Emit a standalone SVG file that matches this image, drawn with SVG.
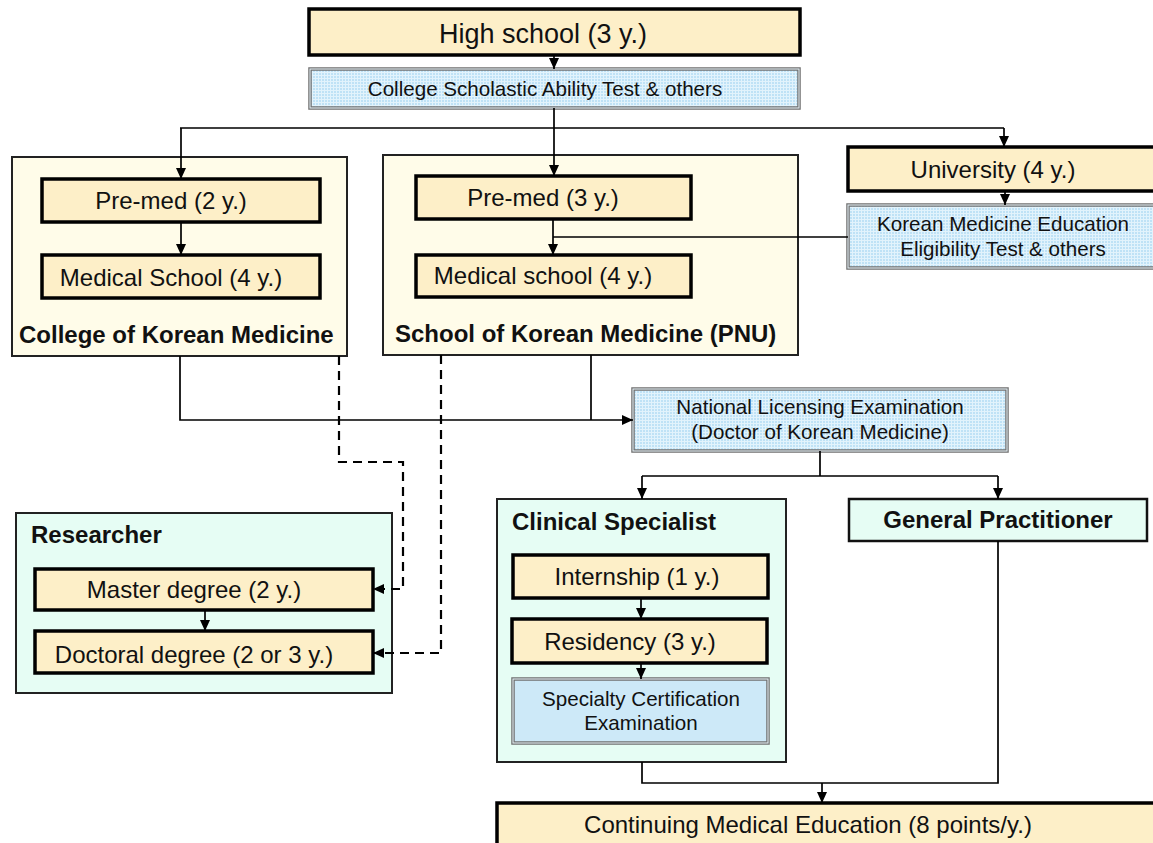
<svg xmlns="http://www.w3.org/2000/svg" width="1153" height="843" viewBox="0 0 1153 843">
<defs>
<pattern id="grid" width="3" height="3" patternUnits="userSpaceOnUse">
<rect width="3" height="3" fill="#bfe2f6"/>
<path d="M0,0.5 H3 M0.5,0 V3" stroke="#e2f3fc" stroke-width="1"/>
</pattern>
<marker id="ah" markerWidth="11" markerHeight="11" refX="11" refY="5.5" orient="auto" markerUnits="userSpaceOnUse">
<path d="M0,0.5 L11,5.5 L0,10.5 z" fill="#000"/>
</marker>
<style>
text{font-family:"Liberation Sans",Arial,sans-serif;fill:#111}
.t{font-size:24px;text-anchor:middle}
.b{font-size:24px;font-weight:bold}
.s{font-size:20.6px;text-anchor:middle}
.step{fill:#fdefc8;stroke:#000;stroke-width:3.5}
.cont{fill:#fffce9;stroke:#222;stroke-width:2}
.mint{fill:#e6fdf4;stroke:#222;stroke-width:2}
.test{fill:url(#grid);stroke:#707070;stroke-width:3.5}
.testin{fill:none;stroke:#e8f4fa;stroke-width:1}
.c{fill:none;stroke:#000;stroke-width:1.7}
.a{marker-end:url(#ah)}
.d{stroke-dasharray:9,6;stroke-width:2.2}
</style>
</defs>

<g id="high-school"><rect class="step" x="309" y="9" width="491" height="46"/><text class="t" x="543" y="43" style="font-size:27px">High school (3 y.)</text></g>
<g id="csat"><rect class="test" x="310" y="69" width="489" height="39"/><rect class="testin" x="310" y="69" width="489" height="39"/><text class="s" x="545" y="96">College Scholastic Ability Test &amp; others</text></g>

<g id="college"><rect class="cont" x="12" y="157" width="335" height="199"/><text class="b" x="19" y="343">College of Korean Medicine</text></g>
<g id="premed2"><rect class="step" x="42" y="179" width="278" height="43"/><text class="t" x="171" y="209">Pre-med (2 y.)</text></g>
<g id="med2"><rect class="step" x="42" y="255" width="278" height="43"/><text class="t" x="171" y="286">Medical School (4 y.)</text></g>

<g id="school"><rect class="cont" x="383" y="155" width="415" height="200"/><text class="b" x="395" y="342">School of Korean Medicine (PNU)</text></g>
<g id="premed3"><rect class="step" x="416" y="176" width="275" height="43"/><text class="t" x="543" y="206">Pre-med (3 y.)</text></g>
<g id="med3"><rect class="step" x="416" y="255" width="275" height="42"/><text class="t" x="543" y="284">Medical school (4 y.)</text></g>

<g id="university"><rect class="step" x="848" y="147" width="310" height="44"/><text class="t" x="993" y="178">University (4 y.)</text></g>
<g id="kmeet"><rect class="test" x="848" y="205" width="312" height="63"/><rect class="testin" x="848" y="205" width="312" height="63"/><text class="s" x="1003" y="231">Korean Medicine Education</text><text class="s" x="1003" y="256">Eligibility Test &amp; others</text></g>

<g id="nle"><rect class="test" x="633" y="389" width="374" height="62"/><rect class="testin" x="633" y="389" width="374" height="62"/><text class="s" x="820" y="414">National Licensing Examination</text><text class="s" x="820" y="439">(Doctor of Korean Medicine)</text></g>

<g id="researcher"><rect class="mint" x="16" y="513" width="376" height="180"/><text class="b" x="31" y="543">Researcher</text></g>
<g id="master"><rect class="step" x="35" y="569" width="338" height="41"/><text class="t" x="194" y="598">Master degree (2 y.)</text></g>
<g id="doctoral"><rect class="step" x="35" y="631" width="338" height="42"/><text class="t" x="194" y="663">Doctoral degree (2 or 3 y.)</text></g>

<g id="clinical"><rect class="mint" x="497" y="499" width="289" height="263"/><text class="b" x="512" y="530">Clinical Specialist</text></g>
<g id="internship"><rect class="step" x="513" y="555" width="255" height="43"/><text class="t" x="637" y="585">Internship (1 y.)</text></g>
<g id="residency"><rect class="step" x="512" y="619" width="255" height="44"/><text class="t" x="630" y="650">Residency (3 y.)</text></g>
<g id="sce"><rect x="513" y="679" width="255" height="64" fill="#cde9f8" stroke="#707070" stroke-width="3.5"/><rect class="testin" x="513" y="679" width="255" height="64"/><text class="s" x="641" y="706">Specialty Certification</text><text class="s" x="641" y="730">Examination</text></g>

<g id="gp"><rect x="849" y="499" width="298" height="42" fill="#e6fdf4" stroke="#111" stroke-width="2.5"/><text class="b" x="998" y="528" text-anchor="middle">General Practitioner</text></g>

<g id="cme"><rect class="step" x="497" y="803" width="665" height="50"/><text class="t" x="808" y="833">Continuing Medical Education (8 points/y.)</text></g>

<g id="connectors">
<path class="c a" d="M554,55 V69"/>
<path class="c" d="M554,108 V128 M180,128 H1004"/>
<path class="c a" d="M181,128 V179"/>
<path class="c a" d="M554,128 V176"/>
<path class="c a" d="M1004,128 V147"/>
<path class="c a" d="M181,222 V255"/>
<path class="c a" d="M553,219 V255"/>
<path class="c" d="M848,237 H553"/>
<path class="c a" d="M1005,191 V205"/>
<path class="c a" d="M180,356 V420 H633"/>
<path class="c" d="M591,355 V420"/>
<path class="c a d" d="M339,356 V462 H403 V589 H373"/>
<path class="c a d" d="M441,355 V653 H373"/>
<path class="c" d="M820,451 V476 M642,476 H998"/>
<path class="c a" d="M642,476 V499"/>
<path class="c a" d="M998,476 V499"/>
<path class="c a" d="M205,610 V631"/>
<path class="c a" d="M641,598 V619"/>
<path class="c a" d="M641,663 V679"/>
<path class="c" d="M642,762 V783 H998 V541"/>
<path class="c a" d="M822,783 V803"/>
</g>
</svg>
